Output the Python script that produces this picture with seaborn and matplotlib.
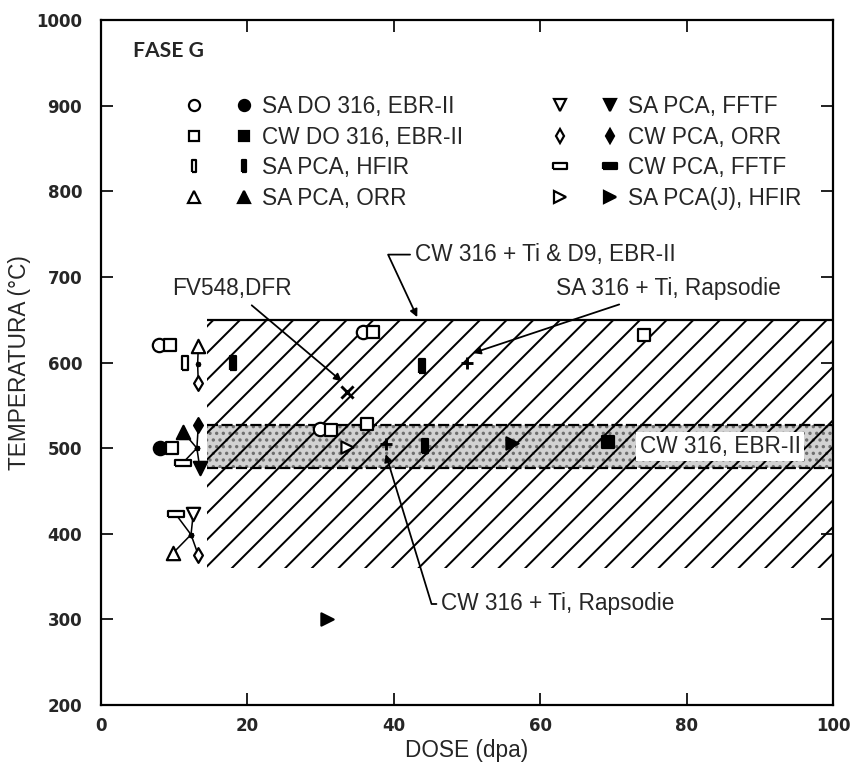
import matplotlib
matplotlib.use("Agg")
import matplotlib.pyplot as plt
from matplotlib.lines import Line2D
from matplotlib.legend_handler import HandlerTuple
import seaborn as sns

DPI = 160

# ---- values: dose (dpa), temperature (C) ----
# SA DO 316, EBR-II  (circle)
sa_do_open_x = [7.9, 29.9, 35.8]
sa_do_open_y = [620, 522, 636]
sa_do_fill_x = [8.1]
sa_do_fill_y = [500]
# CW DO 316, EBR-II  (square)
cw_do_open_x = [9.4, 9.7, 31.4, 36.4, 37.2, 74.2]
cw_do_open_y = [620, 500, 521, 528, 636, 632]
cw_do_fill_x = [69.3]
cw_do_fill_y = [507]
# SA PCA, HFIR  (tall bar)
sa_hfir_open_x = [11.5]
sa_hfir_open_y = [600]
sa_hfir_fill_x = [18.0, 43.8, 44.3]
sa_hfir_fill_y = [600, 596, 503]
# SA PCA, ORR  (triangle up)
sa_orr_open_x = [13.3, 9.9]
sa_orr_open_y = [619, 378]
sa_orr_fill_x = [11.2]
sa_orr_fill_y = [519]
# SA PCA, FFTF  (triangle down)
sa_fftf_open_x = [12.6]
sa_fftf_open_y = [423]
sa_fftf_fill_x = [13.5]
sa_fftf_fill_y = [477]
# CW PCA, ORR  (diamond)
cw_orr_open_x = [13.3, 13.3]
cw_orr_open_y = [576, 375]
cw_orr_fill_x = [13.3]
cw_orr_fill_y = [527]
# CW PCA, FFTF  (flat bar)
cw_fftf_open_x = [11.2, 10.2]
cw_fftf_open_y = [483, 423]
# SA PCA(J), HFIR  (triangle right)
sa_j_open_x = [33.6]
sa_j_open_y = [501]
sa_j_fill_x = [56.1, 30.9]
sa_j_fill_y = [506, 300]
# FV548, DFR (x) and 316 + Ti, Rapsodie (+)
fv548_x = [33.6]
fv548_y = [566]
ti_x = [50.0, 39.0]
ti_y = [600, 505]

# leader lines of the crowded groups near 12 dpa
hub_x = [13.2, 13.2, 13.1, 13.1, 13.1, 13.1, 12.3, 12.3, 12.3, 12.3]
hub_y = [598, 598, 500, 500, 500, 500, 399, 399, 399, 399]
spoke_x = [13.3, 13.3, 11.2, 13.3, 11.2, 13.5, 10.2, 12.6, 9.9, 13.3]
spoke_y = [619, 576, 519, 527, 483, 477, 423, 423, 378, 375]

# bands
band_x = [14.5, 100]
hatch_lo, hatch_hi = 360, 650      # CW 316 + Ti & D9, EBR-II
band_lo, band_hi = 477, 527        # CW 316, EBR-II

labels_left = ["SA DO 316, EBR-II", "CW DO 316, EBR-II", "SA PCA, HFIR", "SA PCA, ORR"]
labels_right = ["SA PCA, FFTF", "CW PCA, ORR", "CW PCA, FFTF", "SA PCA(J), HFIR"]

tall = [(-0.4, -1), (0.4, -1), (0.4, 1), (-0.4, 1), (-0.4, -1)]
flat = [(-1, -0.38), (1, -0.38), (1, 0.38), (-1, 0.38), (-1, -0.38)]

FS = 10.2

sns.set_style("ticks")
plt.rcParams["font.family"] = ["Liberation Sans", "DejaVu Sans"]
plt.rcParams["hatch.linewidth"] = 0.9

fig = plt.figure(figsize=(855 / DPI, 774 / DPI), dpi=DPI)
ax = fig.add_axes([0.1181, 0.0891, 0.8562, 0.8851])

# shaded band + hatched region
ax.fill_between(band_x, band_lo, band_hi, facecolor="#d2d2d2", edgecolor="#6e6e6e",
                hatch="....", linewidth=0, zorder=1)
ax.fill_between(band_x, hatch_lo, hatch_hi, facecolor="none", edgecolor="black",
                hatch="//", linewidth=0, zorder=2)
ax.hlines(hatch_hi, band_x[0], band_x[1], color="black", lw=1.0, zorder=3)
ax.hlines([band_lo, band_hi], band_x[0], band_x[1], colors="black", lw=1.0,
          linestyles=(0, (5, 1.5)), zorder=3)
ax.text(73.6, (band_lo + band_hi) / 2, "CW 316, EBR-II", ha="left", va="center",
        fontsize=FS, zorder=4, bbox=dict(fc="white", ec="none", pad=1.5))

# spokes
for hx, hy, sx, sy in zip(hub_x, hub_y, spoke_x, spoke_y):
    ax.plot([hx, sx], [hy, sy], color="black", lw=0.7, zorder=4)
sns.scatterplot(x=hub_x, y=hub_y, s=5, color="black", edgecolor="black", ax=ax, zorder=4)


def pts(x, y, marker, size, filled):
    sns.scatterplot(x=x, y=y, marker=marker, s=size,
                    facecolor="black" if filled else "white",
                    edgecolor="black", linewidth=1.0, ax=ax, zorder=5)


pts(sa_do_open_x, sa_do_open_y, "o", 36, False)
pts(sa_do_fill_x, sa_do_fill_y, "o", 36, True)
pts(cw_do_open_x, cw_do_open_y, "s", 26, False)
pts(cw_do_fill_x, cw_do_fill_y, "s", 26, True)
pts(sa_hfir_open_x, sa_hfir_open_y, tall, 40, False)
pts(sa_hfir_fill_x, sa_hfir_fill_y, tall, 40, True)
pts(sa_orr_open_x, sa_orr_open_y, "^", 36, False)
pts(sa_orr_fill_x, sa_orr_fill_y, "^", 36, True)
pts(sa_fftf_open_x, sa_fftf_open_y, "v", 36, False)
pts(sa_fftf_fill_x, sa_fftf_fill_y, "v", 36, True)
pts(cw_orr_open_x, cw_orr_open_y, "d", 22, False)
pts(cw_orr_fill_x, cw_orr_fill_y, "d", 22, True)
pts(cw_fftf_open_x, cw_fftf_open_y, flat, 52, False)
pts(sa_j_open_x, sa_j_open_y, ">", 30, False)
pts(sa_j_fill_x, sa_j_fill_y, ">", 30, True)
sns.scatterplot(x=fv548_x, y=fv548_y, marker="x", s=30, color="black", linewidth=1.3, ax=ax, zorder=5)
sns.scatterplot(x=ti_x, y=ti_y, marker="+", s=30, color="black", linewidth=1.3, ax=ax, zorder=5)

# annotations
arrow = dict(arrowstyle="-|>", color="black", lw=0.8, mutation_scale=7, shrinkA=0, shrinkB=0)
ax.annotate("FV548,DFR", xy=(32.9, 578), xytext=(26.1, 686), ha="right", va="center",
            fontsize=FS, arrowprops=arrow)
ax.annotate("CW 316 + Ti & D9, EBR-II", xy=(43.2, 653), xytext=(42.9, 726), ha="left",
            va="center", fontsize=FS,
            arrowprops=dict(arrow, connectionstyle="angle,angleA=180,angleB=115,rad=0"))
ax.annotate("SA 316 + Ti, Rapsodie", xy=(50.8, 611), xytext=(62.2, 687), ha="left",
            va="center", fontsize=FS, arrowprops=arrow)
ax.annotate("CW 316 + Ti, Rapsodie", xy=(38.9, 493), xytext=(46.5, 318), ha="left",
            va="center", fontsize=FS,
            arrowprops=dict(arrow, connectionstyle="angle,angleA=180,angleB=-73,rad=0"))
ax.text(4.4, 964, "FASE G", fontsize=9.5, fontweight="bold", family="Lato",
        ha="left", va="center")

# legend (open / filled pairs)
def pair(m, ms):
    return (Line2D([], [], ls="none", marker=m, ms=ms, mfc="white", mec="black", mew=1.0),
            Line2D([], [], ls="none", marker=m, ms=ms, mfc="black", mec="black", mew=1.0))


leg_kw = dict(handler_map={tuple: HandlerTuple(ndivide=None, pad=1.32)}, frameon=False,
              handlelength=3.08, handletextpad=0.37, labelspacing=0.33, borderpad=0,
              borderaxespad=0, fontsize=FS, loc="upper left", bbox_transform=ax.transData)
leg1 = ax.legend([pair("o", 5), pair("s", 4.6), pair(tall, 5.6), pair("^", 5)],
                 labels_left, bbox_to_anchor=(11.3, 912), **leg_kw)
ax.add_artist(leg1)
ax.legend([pair("v", 5), pair("d", 4.4), pair(flat, 6.4), pair(">", 5)],
          labels_right, bbox_to_anchor=(61.3, 912), **leg_kw)

ax.set_xlim(0, 100)
ax.set_ylim(200, 1000)
ax.set_xticks(range(0, 101, 20))
ax.set_yticks(range(200, 1001, 100))
ax.tick_params(direction="in", top=True, right=True, length=5.4, width=0.9, labelsize=7.5)
ax.tick_params(axis="x", pad=5.5)
ax.tick_params(axis="y", pad=8.5)
for lab in ax.get_xticklabels() + ax.get_yticklabels():
    lab.set_family("DejaVu Sans")
    lab.set_fontweight("bold")
for sp in ax.spines.values():
    sp.set_linewidth(1.0)
    sp.set_color("black")
ax.set_xlabel("DOSE (dpa)", fontsize=FS, labelpad=1.5)
ax.set_ylabel("TEMPERATURA (\u00b0C)", fontsize=FS, labelpad=2.5)

fig.savefig("out.png", dpi=DPI)
